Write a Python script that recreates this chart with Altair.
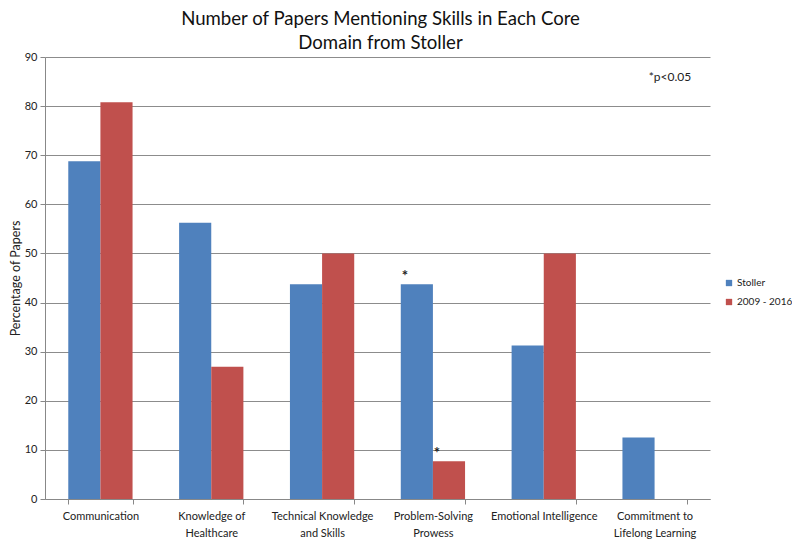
import altair as alt
import pandas as pd

categories = ["Communication", "Knowledge of|Healthcare", "Technical Knowledge|and Skills",
              "Problem-Solving|Prowess", "Emotional Intelligence", "Commitment to|Lifelong Learning"]
series = ["Stoller", "2009 - 2016"]
stoller = [68.75, 56.25, 43.75, 43.75, 31.25, 12.5]
recent = [80.77, 26.92, 50.0, 7.69, 50.0, 0.0]
colors = ["#4F81BD", "#C0504D"]
y_ticks = [0, 10, 20, 30, 40, 50, 60, 70, 80, 90]
sig_category = "Problem-Solving|Prowess"
note_text = "*p<0.05"
note_value = 86

rows = []
for c, a, b in zip(categories, stoller, recent):
    rows.append({"category": c, "series": series[0], "value": a})
    rows.append({"category": c, "series": series[1], "value": b})
df = pd.DataFrame(rows)
sig = df[df["category"] == sig_category].assign(mark="*")
note = pd.DataFrame({"value": [note_value], "text": [note_text]})

FONT = "Lato"
xscale = alt.Scale(domain=categories, paddingInner=0.42, paddingOuter=0.21)
yscale = alt.Scale(domain=[0, 90])

bars = alt.Chart(df).mark_bar().encode(
    x=alt.X("category:N", scale=xscale, title=None,
            axis=alt.Axis(labelExpr="split(datum.label, '|')", labelAngle=0,
                          labelFontSize=11, labelColor="#222", labelPadding=6,
                          tickBand="extent", tickSize=5, tickColor="#888",
                          domainColor="#888", labelLineHeight=17, labelFont=FONT,
                          labelBaseline="top")),
    xOffset=alt.XOffset("series:N", sort=series),
    y=alt.Y("value:Q", scale=yscale, title="Percentage of Papers",
            axis=alt.Axis(values=y_ticks, labelFontSize=11, labelColor="#222",
                          titleFontSize=12.5, titleFontWeight="normal", titleColor="#222",
                          titlePadding=2, gridColor="#8c8c8c", tickColor="#888",
                          domainColor="#888", tickSize=5, labelPadding=3,
                          labelFont=FONT, titleFont=FONT)),
    color=alt.Color("series:N", sort=series,
                    scale=alt.Scale(domain=series, range=colors),
                    legend=alt.Legend(title=None, orient="none", legendX=679, legendY=221,
                                      symbolType="square", symbolSize=40,
                                      labelFontSize=10, labelColor="#222", labelFont=FONT,
                                      rowPadding=9, symbolStrokeWidth=0, labelOffset=3,
                                      labelLimit=300)),
)

stars = alt.Chart(sig).mark_text(fontSize=15, baseline="bottom", dy=0, dx=-12, font=FONT,
                                 fontWeight="bold", color="#222").encode(
    x=alt.X("category:N", scale=xscale),
    xOffset=alt.XOffset("series:N", sort=series),
    y=alt.Y("value:Q", scale=yscale),
    text="mark:N",
)

note_layer = alt.Chart(note).mark_text(fontSize=12, align="center", font=FONT,
                                       color="#222").encode(
    x=alt.value(625),
    y=alt.Y("value:Q", scale=yscale),
    text="text:N",
)

chart = alt.layer(bars, stars, note_layer).properties(
    width=665, height=442,
    title=alt.TitleParams(["Number of Papers Mentioning Skills in Each Core", "Domain from Stoller"],
                          fontSize=18.6, fontWeight="normal", font=FONT, color="#111",
                          lineHeight=24, anchor="middle", dx=3, offset=-2),
    autosize=alt.AutoSizeParams(type="none"),
    padding={"left": 37, "top": 49, "right": 82, "bottom": 40},
).configure_view(stroke=None)

chart.save("out.html", embed_options={"renderer": "svg", "actions": False})
